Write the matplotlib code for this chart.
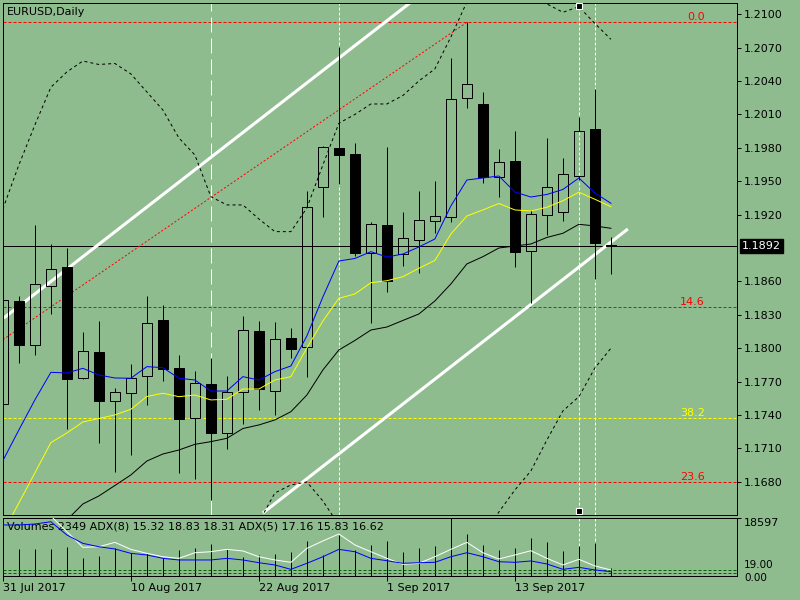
import matplotlib
matplotlib.use('Agg')
import matplotlib.pyplot as plt
import matplotlib.transforms as mtransforms

plt.rcParams['font.family'] = ['DejaVu Sans']
plt.rcParams['font.size'] = 8
plt.rcParams['lines.scale_dashes'] = False

BG = '#8FBC8F'
PX = 0.72  # one screen pixel in points (dpi 100)

# --- EURUSD daily candles, 31 Jul .. 21 Sep 2017 ---
opens = [1.17496, 1.18424, 1.18026, 1.18561, 1.18732, 1.17729, 1.17966, 1.17523, 1.17595, 1.17747,
         1.18253, 1.17822, 1.17370, 1.17678, 1.17235, 1.17604, 1.18154, 1.17618, 1.18089, 1.18013,
         1.19451, 1.19796, 1.19745, 1.18853, 1.19104, 1.18846, 1.18972, 1.19140, 1.19176, 1.20245,
         1.20194, 1.19535, 1.19682, 1.18873, 1.19194, 1.19221, 1.19550, 1.19969, 1.18930]
highs = [1.18470, 1.18469, 1.19107, 1.18936, 1.18900, 1.18145, 1.18247, 1.17642, 1.17858, 1.18469,
         1.18385, 1.17939, 1.17795, 1.17909, 1.17750, 1.18289, 1.18247, 1.18238, 1.18181, 1.19412,
         1.19820, 1.20703, 1.19841, 1.19137, 1.19810, 1.19224, 1.19412, 1.19502, 1.20605, 1.20928,
         1.20299, 1.19787, 1.19951, 1.19242, 1.19891, 1.19712, 1.20080, 1.20329, 1.19002]
lows = [1.17480, 1.17864, 1.17939, 1.18307, 1.17277, 1.17720, 1.17151, 1.16890, 1.17043, 1.17492,
        1.17703, 1.16876, 1.16822, 1.16636, 1.17092, 1.17316, 1.17445, 1.17400, 1.17909, 1.17744,
        1.19176, 1.19473, 1.18830, 1.18229, 1.18508, 1.18739, 1.18678, 1.19032, 1.19137, 1.20155,
        1.19482, 1.19358, 1.18732, 1.18403, 1.19017, 1.19143, 1.19511, 1.18619, 1.18664]
closes = [1.18433, 1.18029, 1.18577, 1.18709, 1.17726, 1.17975, 1.17528, 1.17604, 1.17732, 1.18224,
          1.17810, 1.17361, 1.17685, 1.17241, 1.17609, 1.18163, 1.17633, 1.18080, 1.17995, 1.19266,
          1.19808, 1.19733, 1.18853, 1.19113, 1.18606, 1.18987, 1.19152, 1.19188, 1.20239, 1.20371,
          1.19541, 1.19670, 1.18862, 1.19203, 1.19446, 1.19565, 1.19949, 1.18942, 1.18920]

# moving averages and bands
ma_fast = [1.16989, 1.17265, 1.17535, 1.17783, 1.17777, 1.17819, 1.17759, 1.17732, 1.17730, 1.17834,
           1.17825, 1.17730, 1.17714, 1.17615, 1.17615, 1.17744, 1.17714, 1.17789, 1.17840, 1.18110,
           1.18460, 1.18783, 1.18806, 1.18867, 1.18819, 1.18846, 1.18909, 1.18981, 1.19278, 1.19511,
           1.19529, 1.19547, 1.19403, 1.19358, 1.19381, 1.19426, 1.19529, 1.19394, 1.19302]
ma_mid = [1.16340, 1.16609, 1.16879, 1.17151, 1.17238, 1.17337, 1.17368, 1.17400, 1.17451, 1.17566,
          1.17595, 1.17564, 1.17579, 1.17535, 1.17541, 1.17633, 1.17633, 1.17714, 1.17744, 1.18002,
          1.18244, 1.18448, 1.18487, 1.18588, 1.18606, 1.18642, 1.18718, 1.18788, 1.19026, 1.19188,
          1.19242, 1.19300, 1.19242, 1.19233, 1.19266, 1.19325, 1.19401, 1.19338, 1.19271]
ma_slow = [1.15881, 1.16025, 1.16169, 1.16313, 1.16456, 1.16600, 1.16672, 1.16766, 1.16861, 1.16986,
           1.17049, 1.17085, 1.17136, 1.17160, 1.17190, 1.17278, 1.17310, 1.17355, 1.17429, 1.17579,
           1.17804, 1.17984, 1.18069, 1.18163, 1.18190, 1.18249, 1.18307, 1.18424, 1.18577, 1.18757,
           1.18822, 1.18900, 1.18918, 1.18936, 1.18995, 1.19032, 1.19113, 1.19098, 1.19077]
band_up = [1.19251, 1.19646, 1.20005, 1.20344, 1.20482, 1.20580, 1.20549, 1.20558, 1.20464, 1.20302,
           1.20140, 1.19889, 1.19736, 1.19361, 1.19287, 1.19287, 1.19161, 1.19047, 1.19047, 1.19260,
           1.19646, 1.20021, 1.20100, 1.20194, 1.20194, 1.20270, 1.20401, 1.20509, 1.20796, 1.21111,
           1.21236, 1.21272, 1.21236, 1.21164, 1.21093, 1.21018, 1.21068, 1.20917, 1.20775]
band_lo = [1.15738, 1.15648, 1.15558, 1.15378, 1.15288, 1.15199, 1.15244, 1.15288, 1.15378, 1.15558,
           1.15738, 1.15872, 1.16007, 1.16142, 1.16277, 1.16411, 1.16438, 1.16699, 1.16771, 1.16798,
           1.16627, 1.16411, 1.16232, 1.16097, 1.16007, 1.15962, 1.15962, 1.16007, 1.16097, 1.16187,
           1.16322, 1.16528, 1.16726, 1.16897, 1.17175, 1.17436, 1.17564, 1.17822, 1.17999]

# sub window: volumes and two ADX lines
volumes = [8530, 8530, 8530, 8530, 9265, 5559, 6294, 8754, 7157, 7157,
           5559, 8211, 8754, 10128, 8435, 6071, 6614, 6933, 7572, 11087,
           6614, 13004, 8211, 9809, 11087, 7668, 8754, 9489, 18597, 13323,
           9809, 8211, 8754, 11949, 10671, 7988, 9489, 10352, 2349]
adx8 = [52.6, 52.6, 53.4, 55.2, 44.6, 37.9, 35.2, 33.4, 29.9, 28.6,
        25.9, 24.6, 24.6, 24.6, 25.9, 24.6, 22.4, 20.6, 17.1, 21.9,
        27.2, 33.1, 31.2, 25.9, 24.0, 21.9, 22.4, 22.7, 27.2, 30.4,
        27.2, 23.2, 22.7, 23.8, 21.4, 17.1, 18.7, 16.6, 15.2]
adx5 = [59.8, 59.8, 59.8, 59.8, 47.2, 34.7, 35.2, 38.7, 33.1, 29.9,
        27.2, 25.9, 30.4, 31.2, 33.1, 31.8, 27.2, 24.6, 22.7, 33.9,
        39.8, 45.4, 36.6, 31.2, 25.9, 21.1, 21.9, 27.2, 33.1, 38.7,
        30.4, 25.4, 28.6, 32.0, 25.9, 20.6, 25.1, 19.8, 16.6]
adx_levels = [16.6, 13.9]

# objects on the chart
fib_levels = [1.20928, 1.18367, 1.17370, 1.16795]
fib_names = ['0.0', '14.6', '38.2', '23.6']
fib_colors = ['red', 'red', 'yellow', 'red']
chan_up_x, chan_up_y = [0.06, 25.44], [1.18271, 1.21102]
chan_lo_x, chan_lo_y = [16.25, 39.06], [1.16519, 1.19071]
red_x, red_y = [0, 29], [1.18076, 1.20928]
bid = 1.1892
price_ticks = [1.2100, 1.2070, 1.2040, 1.2010, 1.1980, 1.1950, 1.1920,
               1.1860, 1.1830, 1.1800, 1.1770, 1.1740, 1.1710, 1.1680]
date_idx = [0, 8, 16, 24, 32]
date_labels = ['31 Jul 2017', '10 Aug 2017', '22 Aug 2017', '1 Sep 2017', '13 Sep 2017']

x = list(range(len(opens)))

fig = plt.figure(figsize=(8, 6), dpi=100, facecolor=BG)
W, H = 800.0, 600.0


def box(x0, y0, x1, y1):
    return [x0 / W, 1 - y1 / H, (x1 - x0) / W, (y1 - y0) / H]


ax = fig.add_axes(box(2.7, 2.7, 737.3, 515))
sub = fig.add_axes(box(2.7, 517.5, 737.3, 575.7))
for a in (ax, sub):
    a.set_facecolor(BG)
    a.set_xlim(-0.01, 45.90)
    for s in a.spines.values():
        s.set_color('black')
        s.set_linewidth(PX)
ax.set_ylim(1.16501, 1.21104)

# objects (behind candles)
short_dash = (0, (3 * PX, 2 * PX))
for lvl, name, col in zip(fib_levels, fib_names, fib_colors):
    ax.axhline(lvl, color=col, lw=PX, ls=short_dash, zorder=1)
    ax.text(0.956, lvl, name, color=col, ha='right', va='bottom',
            transform=mtransforms.blended_transform_factory(ax.transAxes, ax.transData), zorder=6)
ax.axhline(bid, color='black', lw=PX, zorder=1)
ax.plot(chan_up_x, chan_up_y, color='white', lw=2.2, zorder=1, solid_capstyle='butt')
ax.plot(chan_lo_x, chan_lo_y, color='white', lw=2.2, zorder=1, solid_capstyle='butt')
ax.plot(red_x, red_y, color='red', lw=PX, ls=(0, (2 * PX, 2 * PX)), zorder=1)
ax.axvline(13, color='white', lw=PX, ls=(0, (15 * PX, 6 * PX)), zorder=1)
ax.axvline(21, color='white', lw=PX, ls=short_dash, zorder=1)
for k in (36, 37):
    ax.axvline(k, color='white', lw=PX, ls=short_dash, zorder=1)
    sub.axvline(k, color='white', lw=PX, ls=short_dash, zorder=1)
bt = mtransforms.blended_transform_factory(ax.transData, ax.transAxes)
ax.plot([36, 36], [0.994, 0.008], 's', ms=4, mfc='black', mec='white', mew=0.8,
        transform=bt, clip_on=False, zorder=7)

# candles
for i in x:
    o, h, l, c = opens[i], highs[i], lows[i], closes[i]
    lo_b, hi_b = min(o, c), max(o, c)
    if c >= o:
        ax.vlines(i, hi_b, h, color='black', lw=PX, zorder=2)
        ax.vlines(i, l, lo_b, color='black', lw=PX, zorder=2)
        fc = 'none'
    else:
        ax.vlines(i, l, h, color='black', lw=PX, zorder=2)
        fc = 'black'
    ax.bar(i, hi_b - lo_b, bottom=lo_b, width=0.63, facecolor=fc,
           edgecolor='black', linewidth=PX, zorder=3)

# indicators
dot = (0, (3 * PX, 3 * PX))
ax.plot(x, band_up, color='black', lw=PX, ls=dot, zorder=4)
ax.plot(x, band_lo, color='black', lw=PX, ls=dot, zorder=4)
ax.plot(x, ma_slow, color='black', lw=PX, zorder=4)
ax.plot(x, ma_mid, color='yellow', lw=PX, zorder=4)
ax.plot(x, ma_fast, color='blue', lw=PX, zorder=4)

ax.text(0.006, 0.982, 'EURUSD,Daily', transform=ax.transAxes, ha='left', va='center')

ax.set_xticks([])
ax.yaxis.tick_right()
ax.set_yticks(price_ticks)
ax.set_yticklabels(['%.4f' % p for p in price_ticks])
ax.tick_params(axis='y', direction='out', length=3, width=PX, pad=1.5, labelsize=8, colors='black')
ax.annotate('%.4f' % bid, xy=(1, bid), xycoords=('axes fraction', 'data'),
            xytext=(3.2, 0), textcoords='offset points', ha='left', va='center',
            color='white', annotation_clip=False,
            bbox=dict(boxstyle='square,pad=0.2', fc='black', ec='black'))

# sub window
sub.set_ylim(0, 18597)
sub.vlines(x, 0, volumes, color='black', lw=PX, zorder=2)
adx_ax = sub.twinx()
adx_ax.set_ylim(12, 58.6)
adx_ax.set_xlim(-0.01, 45.90)
for lv in adx_levels:
    adx_ax.axhline(lv, color='#006400', lw=PX, ls=short_dash, zorder=1)
adx_ax.plot(x, adx5, color='white', lw=PX, zorder=3)
adx_ax.plot(x, adx8, color='blue', lw=PX, zorder=3)
adx_ax.set_yticks([])
for s in adx_ax.spines.values():
    s.set_visible(False)

sub.yaxis.tick_right()
sub.set_yticks([18597])
sub.set_yticklabels(['18597'], va='top')
sub.tick_params(axis='y', direction='out', length=3, width=PX, pad=1.5, labelsize=8)
rt = mtransforms.blended_transform_factory(sub.transAxes, adx_ax.transData)
sub.text(1.0095, adx_levels[0], '19.00', transform=rt, ha='left', va='bottom', fontsize=7.5)
sub.text(1.0095, adx_levels[1], '0.00', transform=rt, ha='left', va='top', fontsize=7.5)

sub.set_xticks(date_idx)
sub.set_xticklabels(date_labels)
for lbl in sub.get_xticklabels():
    lbl.set_ha('left')
sub.tick_params(axis='x', direction='out', length=3.6, width=PX, pad=1.5, labelsize=8)

sub.text(0.006, 0.84, 'Volumes 2349 ADX(8) 15.32 18.83 18.31 ADX(5) 17.16 15.83 16.62',
         transform=sub.transAxes, ha='left', va='center', zorder=5)

fig.savefig('out.png', dpi=100, facecolor=BG)
